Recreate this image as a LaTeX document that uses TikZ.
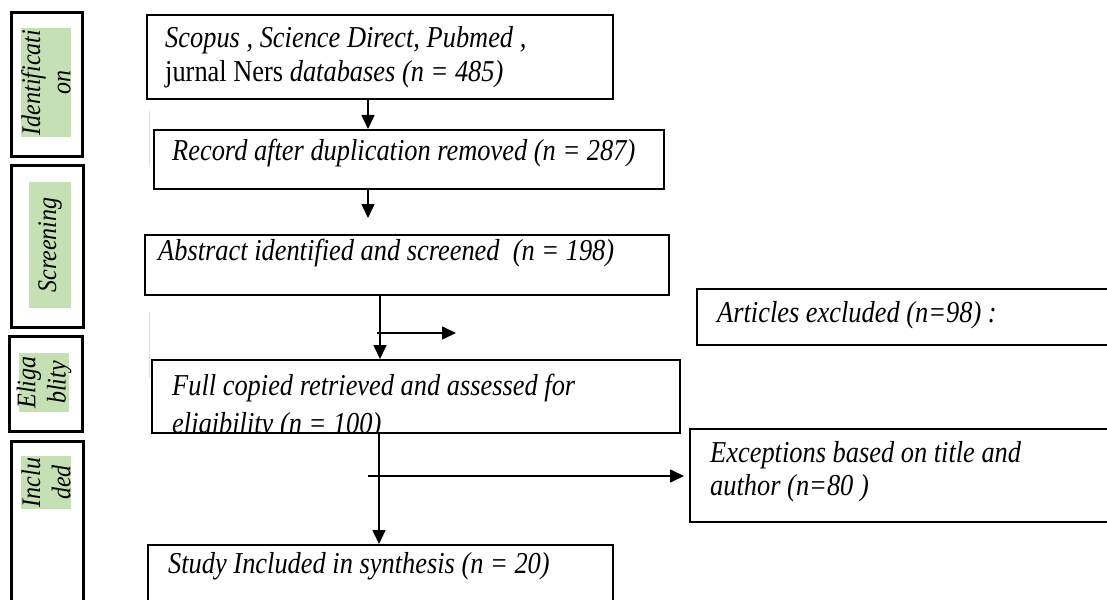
\documentclass[tikz,border=0pt]{standalone}
\usepackage{fontspec}
\setmainfont{Liberation Serif}
\usetikzlibrary{arrows.meta}
\usetikzlibrary{positioning}

\definecolor{tagfill}{HTML}{C5E0B4}

\begin{document}
\begin{tikzpicture}
[x=1pt,y=-1pt,>={Triangle[length=14pt,width=13pt]},%
  box/.style={draw,line width=2.4pt,anchor=north west,inner sep=0pt},
  sidebox/.style={draw,line width=3pt,anchor=north west,inner sep=0pt},
  tagbg/.style={fill=tagfill,inner sep=0pt},
  tagtext/.style={rotate=90,yscale=1.12,align=center,inner sep=0pt,font=\fontsize{24}{27}\selectfont\itshape},
  txt/.style={anchor=base west,yscale=1.15,inner sep=0pt,font=\fontsize{26.4}{34}\selectfont\itshape},
  flow/.style={->,line width=1.6pt},
  faint/.style={gray!25,line width=1pt}]
\useasboundingbox (0,0) rectangle (1107,599);
\clip (0,0) rectangle (1107,599);
%% stage panels
\node[sidebox,minimum width=71pt,minimum height=144pt] (idbox) at (10,11) {};
\node[sidebox,minimum width=72pt,minimum height=162pt] (scrbox) at (10,164) {};
\node[sidebox,minimum width=73pt,minimum height=95pt] (eligbox) at (8,335) {};
\node[sidebox,minimum width=72pt,minimum height=180pt] (inclbox) at (10,440) {};
\node[tagbg,minimum width=50pt,minimum height=109pt] (idtag) at (46,82.5) {};
\node[tagbg,minimum width=42pt,minimum height=126pt] (scrtag) at (50,245) {};
\node[tagbg,minimum width=50pt,minimum height=59pt] (eligtag) at (44,382.5) {};
\node[tagbg,minimum width=50pt,minimum height=53pt] (incltag) at (46,482.5) {};
\node[tagtext] (idtext) at (idtag) {Identificati\\on};
\node[tagtext] (scrtext) at (scrtag) {Screening};
\node[tagtext] (eligtext) at (eligtag) {Eliga\\blity};
\node[tagtext] (incltext) at (incltag) {Inclu\\ded};
\draw[faint] (149,111) -- (149,165);
\draw[faint] (149,312) -- (149,378);
%% flow boxes
\node[box,minimum width=466pt,minimum height=84pt] (src) at (146,14) {};
\node[box,minimum width=510pt,minimum height=59pt] (dup) at (153,129) {};
\node[box,minimum width=524pt,minimum height=60pt] (abs) at (144,234) {};
\node[box,minimum width=528pt,minimum height=73pt] (full) at (151,359) {};
\node[box,minimum width=465pt,minimum height=80pt] (incl) at (147,544) {};
\node[box,minimum width=440pt,minimum height=56pt] (excl) at (696,288) {};
\node[box,minimum width=450pt,minimum height=93pt] (exc) at (689,428) {};
%% box texts
\node[txt] (srcA) at (165,48) {Scopus , Science Direct, Pubmed ,};
\node[txt] (srcB) at (165,82) {\upshape jurnal Ners \itshape databases (n = 485)};
\node[txt] (duptext) at (172,160) {Record after duplication removed (n = 287)};
\node[txt] (abstext) at (158,260) {Abstract identified and screened\ \ (n = 198)};
\node[txt] (fullA) at (172,395) {Full copied retrieved and assessed for};
\begin{scope}
\clip ([yshift=2.5pt]full.south west) rectangle (full.north east);
\node[txt] (fullB) at (172,433) {eligibility (n = 100)};
\end{scope}
\node[txt] (studytext) at (168,573) {Study Included in synthesis (n = 20)};
\node[txt] (excltext) at (717,322) {Articles excluded (n=98) :};
\node[txt] (excA) at (710,462) {Exceptions based on title and};
\node[txt] (excB) at (710,495) {author (n=80 )};
%% connectors
\coordinate (colA) at (368,0);
\coordinate (colB) at (380,0);
\coordinate (colC) at (379,0);
\coordinate (stop2) at (368,218);
\coordinate (branch1) at (377,333);
\coordinate (branch1end) at (456,333);
\coordinate (branch2) at (368,476);
\draw[flow] (src.south -| colA) -- (dup.north -| colA);
\draw[flow] (dup.south -| colA) -- (stop2);
\draw[flow] (abs.south -| colB) -- (full.north -| colB);
\draw[flow] (branch1) -- (branch1end);
\draw[flow] (full.south -| colC) -- (incl.north -| colC);
\draw[flow] (branch2) -- ([xshift=-5pt]branch2 -| exc.west);
\end{tikzpicture}
\end{document}
